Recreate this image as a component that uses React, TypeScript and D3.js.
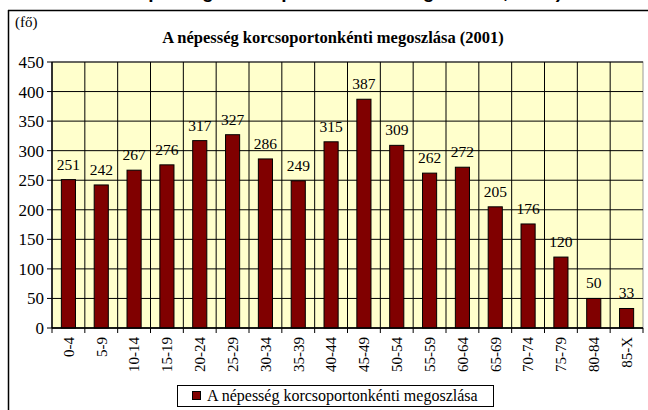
import React from 'react';
import * as d3 from 'd3';

// korcsoportok és létszámok (fő)
const categories = ['0-4', '5-9', '10-14', '15-19', '20-24', '25-29', '30-34', '35-39', '40-44',
  '45-49', '50-54', '55-59', '60-64', '65-69', '70-74', '75-79', '80-84', '85-X'];
const values = [251, 242, 267, 276, 317, 327, 286, 249, 315, 387, 309, 262, 272, 205, 176, 120, 50, 33];
const yTicks = [0, 50, 100, 150, 200, 250, 300, 350, 400, 450];

const seriesName = 'A népesség korcsoportonkénti megoszlása';
const chartTitle = 'A népesség korcsoportonkénti megoszlása (2001)';
const unitLabel = '(fő)';
const pageHeading = 'A népesség korcsoport szerinti megoszlása, 2001)';

const W = 648;
const H = 410;
const serif = { fontFamily: "'Liberation Serif', 'DejaVu Serif', serif" };
const sans = { fontFamily: "'Liberation Sans', Arial, sans-serif" };

export default function App() {
  const plot = { left: 52, right: 643, top: 62, bottom: 328 };

  const x = d3.scaleBand<string>()
    .domain(categories)
    .range([plot.left, plot.right])
    .paddingInner(0.57)
    .paddingOuter(0.285);

  const y = d3.scaleLinear()
    .domain([0, 450])
    .range([plot.bottom, plot.top]);

  const step = x.step();
  const bounds = d3.range(categories.length + 1).map(i => plot.left + i * step);

  return (
    <svg width={W} height={H} style={{ position: 'fixed', left: 0, top: 0, display: 'block' }}>
      <rect x={0} y={0} width={W} height={H} fill="#fff" />

      {/* levágott felső felirat: csak az alsó része látszik */}
      <text x={335} y={-2} textAnchor="middle" style={sans}
        fontWeight="bold" fontSize={19} fill="#000">{pageHeading}</text>

      {/* keret */}
      <line x1={8.5} y1={10} x2={8.5} y2={H} stroke="#000" strokeWidth={1.5} />
      <line x1={8} y1={10.5} x2={W} y2={10.5} stroke="#000" strokeWidth={1.5} />

      <text x={15} y={27} style={serif} fontSize={15} fill="#000">{unitLabel}</text>
      <text x={333} y={43} textAnchor="middle" style={serif} fontSize={16.5}
        fontWeight="bold" fill="#000">{chartTitle}</text>

      {/* rajzterület */}
      <rect x={plot.left} y={plot.top} width={plot.right - plot.left} height={plot.bottom - plot.top}
        fill="#FFFFCC" stroke="#999" />

      {yTicks.map(t => (
        <line key={'h' + t} x1={plot.left} x2={plot.right} y1={y(t)} y2={y(t)} stroke="#000" strokeWidth={1} />
      ))}
      {bounds.slice(1, -1).map((b, i) => (
        <line key={'v' + i} x1={b} x2={b} y1={plot.top} y2={plot.bottom} stroke="#000" strokeWidth={1} />
      ))}

      {/* oszlopok */}
      {categories.map((c, i) => (
        <rect key={c} x={x(c)} y={y(values[i])} width={x.bandwidth()} height={y(0) - y(values[i])}
          fill="#800000" stroke="#000" strokeWidth={1} />
      ))}

      {/* értékcímkék */}
      {categories.map((c, i) => (
        <text key={'l' + c} x={(x(c) as number) + x.bandwidth() / 2} y={y(values[i]) - 10}
          textAnchor="middle" style={serif} fontSize={15.5} fill="#000">{values[i]}</text>
      ))}

      {/* Y tengely */}
      <line x1={plot.left} x2={plot.left} y1={plot.top} y2={plot.bottom} stroke="#000" strokeWidth={1.5} />
      {yTicks.map(t => (
        <g key={'yt' + t}>
          <line x1={plot.left - 5} x2={plot.left} y1={y(t)} y2={y(t)} stroke="#000" />
          <text x={plot.left - 8} y={y(t)} dy="0.35em" textAnchor="end" style={serif}
            fontSize={17} fill="#000">{t}</text>
        </g>
      ))}

      {/* X tengely */}
      <line x1={plot.left} x2={plot.right} y1={plot.bottom} y2={plot.bottom} stroke="#000" strokeWidth={1.5} />
      {bounds.map((b, i) => (
        <line key={'xt' + i} x1={b} x2={b} y1={plot.bottom} y2={plot.bottom + 5} stroke="#000" />
      ))}
      {categories.map(c => {
        const cx = (x(c) as number) + x.bandwidth() / 2;
        return (
          <text key={'xl' + c} transform={`translate(${cx},${plot.bottom + 9}) rotate(-90)`}
            textAnchor="end" dy="0.35em" style={serif} fontSize={15} fill="#000">{c}</text>
        );
      })}

      {/* jelmagyarázat */}
      <rect x={177.5} y={385.5} width={316} height={21} fill="#fff" stroke="#000" />
      <rect x={192.5} y={391.5} width={8} height={8} fill="#800000" stroke="#000" />
      <text x={207} y={401} style={serif} fontSize={16} fill="#000">{seriesName}</text>
    </svg>
  );
}
